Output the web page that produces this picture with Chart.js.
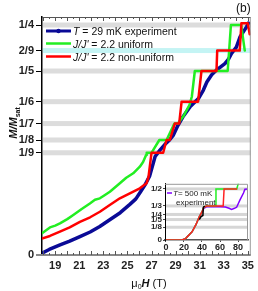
<!DOCTYPE html>
<html><head><meta charset="utf-8">
<script src="https://cdn.jsdelivr.net/npm/chart.js@4/dist/chart.umd.min.js"></script>
<style>
html,body{margin:0;padding:0;background:#fff;}
#wrap{position:relative;width:258px;height:291px;overflow:hidden;}
#main{position:absolute;left:0;top:0;width:258px;height:291px;}
#inset{position:absolute;left:140px;top:178px;width:112px;height:74px;}
</style></head><body>
<div id="wrap">
<canvas id="main" width="258" height="291"></canvas>
<canvas id="inset" width="112" height="74"></canvas>
</div>
<script>
// ---------- data (main panel) ----------
const yTickValues = [0, 1/9, 1/8, 1/7, 1/6, 1/5, 2/9, 1/4];
const yTickLabels = ['0','1/9','1/8','1/7','1/6','1/5','2/9','1/4'];
const xTickLabels = [19, 21, 23, 25, 27, 29, 31, 33, 35];

const expField = [17.9,18.5,19.4,20.2,21.05,21.9,22.7,23.5,24.4,25.2,25.7,26.05,26.45,26.85,27.3,27.7,28.1,28.5,28.8,29.2,29.6,30.2,30.5,30.9,31.3,31.6,32.0,32.4,32.8,33.1,33.4,33.65,34.05,34.35,34.9,35.05];
const expM     = [0.002,0.006,0.011,0.015,0.020,0.025,0.031,0.038,0.046,0.055,0.061,0.068,0.076,0.086,0.107,0.114,0.120,0.125,0.130,0.141,0.150,0.161,0.165,0.170,0.179,0.188,0.196,0.201,0.205,0.208,0.213,0.219,0.226,0.237,0.248,0.252];

const uniField = [17.9,18.56,19.0,19.39,20.0,20.5,21.2,21.88,22.3,22.71,23.1,23.54,24.37,24.9,25.48,26.03,26.3,26.55,26.6,27.0,27.65,28.25,28.9,29.2,29.7,30.15,30.35,30.6,33.33,33.6,34.45,34.75];
const uniM     = [0.0236,0.030,0.032,0.0344,0.039,0.0435,0.050,0.056,0.060,0.0616,0.065,0.0688,0.078,0.084,0.0888,0.096,0.101,0.1087,0.1111,0.1111,0.125,0.125,0.1429,0.1429,0.152,0.163,0.172,0.2,0.2,0.25,0.25,0.2222];

const nonField = [17.9,18.56,19.39,20.2,21.05,21.9,22.71,23.5,24.37,25.2,26.03,26.59,26.75,27.0,27.97,28.25,28.52,28.94,29.3,29.5,30.87,31.15,32.4,32.46,34.33,34.47,35.0,35.16];
const nonM     = [0.018,0.0207,0.0254,0.030,0.036,0.041,0.047,0.054,0.0616,0.067,0.0725,0.078,0.085,0.1111,0.1111,0.125,0.125,0.1429,0.1429,0.1667,0.1667,0.2,0.2,0.2222,0.2222,0.252,0.252,0.24];

// ---------- data (inset) ----------
const insetYTickValues = [0, 1/8, 1/5, 1/4, 1/3, 1/2];
const insetYTickLabels = ['0','1/8','1/5','1/4','1/3','1/2'];
const insetXTickLabels = [0, 20, 40, 60, 80];

const hotField = [0,18,22,29,33,37,40,42,45,60,66,70,72.8,76,78.4,82,86,87.6,91];
const hotM     = [0,0,0.016,0.08,0.145,0.226,0.275,0.31,0.325,0.325,0.322,0.31,0.30,0.31,0.32,0.39,0.46,0.497,0.5];

const insUniField = [0,18,22,29,33,37,40,42,45,54.5,55.5,78.5,80.5];
const insUniM     = [0,0,0.016,0.08,0.145,0.226,0.275,0.32,0.333,0.333,0.5,0.5,0.56];

const insNonField = [0,18,22,29,33,37,40,42,45,63.5,64.5,79];
const insNonM     = [0,0,0.016,0.08,0.145,0.226,0.275,0.32,0.333,0.333,0.5,0.5];

const coldField = [37,39,41,41.5,43];
const coldM     = [0.2,0.23,0.24,0.32,0.333];

const F = "'Liberation Sans', Arial, sans-serif";
const pts = (xs, ys) => xs.map((x, i) => ({x, y: ys[i]}));

function rich(ctx, x, y, parts, align) {
  let w = 0;
  parts.forEach(p => { ctx.font = p[1]; w += ctx.measureText(p[0]).width; });
  let cx = align === 'center' ? x - w / 2 : x;
  parts.forEach(p => { ctx.font = p[1]; ctx.fillText(p[0], cx, y + (p[2] || 0)); cx += ctx.measureText(p[0]).width; });
}

const mainDeco = {
  id: 'mainDeco',
  beforeDatasetsDraw(chart) {
    const {ctx, chartArea: a, scales: {y}} = chart;
    ctx.save();
    yTickValues.forEach((v, i) => {
      if (v === 0) return;
      const py = y.getPixelForValue(v);
      ctx.fillStyle = yTickLabels[i] === '2/9' ? '#c4f4f4' : '#dcdcdc';
      ctx.fillRect(a.left + 1, py - 2.5, a.right - a.left - 1, 5);
    });
    ctx.restore();
  },
  afterDraw(chart) {
    const {ctx, chartArea: a, scales: {x}} = chart;
    ctx.save();
    ctx.strokeStyle = '#555'; ctx.lineWidth = 1;
    ctx.beginPath(); ctx.moveTo(a.left, a.top + 0.5); ctx.lineTo(a.right, a.top + 0.5); ctx.stroke();
    ctx.strokeStyle = '#999';
    ctx.beginPath(); ctx.moveTo(a.right - 0.5, a.top); ctx.lineTo(a.right - 0.5, a.bottom); ctx.stroke();
    ctx.strokeStyle = '#888'; ctx.lineWidth = 2;
    ctx.beginPath(); ctx.moveTo(a.left - 6, a.bottom); ctx.lineTo(a.right, a.bottom); ctx.stroke();
    ctx.lineWidth = 1; ctx.strokeStyle = '#555';
    for (let v = 18; v <= 35.01; v += 0.5) {
      const px = Math.round(x.getPixelForValue(v)) + 0.5;
      const len = Number.isInteger(v) ? 4 : 2;
      ctx.beginPath(); ctx.moveTo(px, a.bottom); ctx.lineTo(px, a.bottom - len); ctx.stroke();
      ctx.beginPath(); ctx.moveTo(px, a.top); ctx.lineTo(px, a.top + len); ctx.stroke();
    }
    ctx.fillStyle = '#111'; ctx.textBaseline = 'alphabetic';
    const lg = [
      {c: '#0a0a96', w: 3, dot: true, parts: [['T', 'italic 10.5px ' + F], [' = 29 mK experiment', '10.5px ' + F]]},
      {c: '#22ee22', w: 2.5, parts: [['J/J\'', 'italic 10.5px ' + F], [' = 2.2 uniform', '10.5px ' + F]]},
      {c: '#ff0000', w: 2.5, parts: [['J/J\'', 'italic 10.5px ' + F], [' = 2.2 non-uniform', '10.5px ' + F]]}
    ];
    const ly = [31, 43.5, 56.5];
    lg.forEach((e, i) => {
      ctx.strokeStyle = e.c; ctx.lineWidth = e.w;
      ctx.beginPath(); ctx.moveTo(46, ly[i]); ctx.lineTo(71, ly[i]); ctx.stroke();
      if (e.dot) { ctx.fillStyle = e.c; ctx.beginPath(); ctx.arc(58.5, ly[i], 2.2, 0, Math.PI * 2); ctx.fill(); }
      ctx.fillStyle = '#111';
      rich(ctx, 73, ly[i] + 4, e.parts, 'left');
    });
    ctx.font = '12px ' + F; ctx.fillStyle = '#111';
    ctx.fillText('(b)', 236, 12);
    rich(ctx, 149, 287, [['\u03bc', '11px ' + F], ['0', '7px ' + F, 2], ['H', 'italic bold 11px ' + F], [' (T)', '11px ' + F]], 'center');
    ctx.translate(13, 123); ctx.rotate(-Math.PI / 2);
    rich(ctx, 0, 4, [['M/M', 'italic bold 11px ' + F], ['sat', 'bold 7px ' + F, 3]], 'center');
    ctx.restore();
  }
};

new Chart(document.getElementById('main'), {
  type: 'line',
  data: {
    datasets: [
      {data: pts(nonField, nonM), borderColor: '#ff0000', borderWidth: 2.5},
      {data: pts(uniField, uniM), borderColor: '#22ee22', borderWidth: 2.5},
      {data: pts(expField, expM), borderColor: '#0a0a96', borderWidth: 3.5}
    ]
  },
  options: {
    responsive: false, animation: false, devicePixelRatio: 1,
    layout: {padding: {left: 0, right: 7, top: 17, bottom: 0}},
    plugins: {legend: {display: false}, tooltip: {enabled: false}},
    elements: {point: {radius: 0}, line: {tension: 0, borderCapStyle: 'round', borderJoinStyle: 'round'}},
    scales: {
      x: {
        type: 'linear', min: 17.9, max: 35.25,
        afterBuildTicks: s => { s.ticks = xTickLabels.map(v => ({value: v})); },
        afterFit: s => { s.height = 36; },
        grid: {display: false, tickLength: 0}, border: {display: false},
        ticks: {font: {family: F, size: 11, weight: 'bold'}, color: '#222', padding: 4, maxRotation: 0, autoSkip: false}
      },
      y: {
        type: 'linear', min: 0, max: 0.2587,
        afterBuildTicks: s => { s.ticks = yTickValues.map(v => ({value: v})); },
        afterFit: s => { s.width = 42; },
        grid: {display: true, drawOnChartArea: false, tickLength: 6, color: '#000'},
        border: {display: true, color: '#000', width: 1.5},
        ticks: {font: {family: F, size: 11, weight: 'bold'}, color: '#222', padding: 2, autoSkip: false,
                callback: (v, i) => yTickLabels[i]}
      }
    }
  },
  plugins: [mainDeco]
});

const insetDeco = {
  id: 'insetDeco',
  beforeDraw(chart) {
    const {ctx, chartArea: a} = chart;
    ctx.save(); ctx.fillStyle = '#fff'; ctx.fillRect(a.left, a.top, a.right - a.left, a.bottom - a.top); ctx.restore();
  },
  beforeDatasetsDraw(chart) {
    const {ctx, chartArea: a, scales: {y}} = chart;
    ctx.save(); ctx.fillStyle = '#d6d6d6';
    insetYTickValues.forEach(v => {
      if (v === 0) return;
      const py = y.getPixelForValue(v);
      ctx.fillRect(a.left + 1, py - 1.5, a.right - a.left - 1, 3);
    });
    ctx.restore();
  },
  afterDraw(chart) {
    const {ctx, chartArea: a} = chart;
    ctx.save();
    ctx.strokeStyle = '#999'; ctx.lineWidth = 1;
    ctx.beginPath(); ctx.moveTo(a.left, a.top + 0.5); ctx.lineTo(a.right - 0.5, a.top + 0.5); ctx.lineTo(a.right - 0.5, a.bottom); ctx.stroke();
    ctx.strokeStyle = '#8000ff'; ctx.lineWidth = 1.5;
    ctx.beginPath(); ctx.moveTo(27, 15); ctx.lineTo(32, 15); ctx.stroke();
    ctx.fillStyle = '#222';
    rich(ctx, 33, 18, [['T', 'italic 8px ' + F], ['= 500 mK', '8px ' + F]], 'left');
    rich(ctx, 36, 27, [['experiment', '8px ' + F]], 'left');
    ctx.restore();
  }
};

new Chart(document.getElementById('inset'), {
  type: 'line',
  data: {
    datasets: [
      {data: pts(coldField, coldM), borderColor: '#000', borderWidth: 1.5},
      {data: pts(insNonField, insNonM), borderColor: '#ff2222', borderWidth: 1.5},
      {data: pts(insUniField, insUniM), borderColor: '#22ee22', borderWidth: 1.5},
      {data: pts(hotField, hotM), borderColor: '#8000ff', borderWidth: 1.5}
    ]
  },
  options: {
    responsive: false, animation: false, devicePixelRatio: 1,
    layout: {padding: {left: 0, right: 4, top: 5, bottom: 0}},
    plugins: {legend: {display: false}, tooltip: {enabled: false}},
    elements: {point: {radius: 0}, line: {tension: 0}},
    scales: {
      x: {
        type: 'linear', min: -1, max: 91,
        afterBuildTicks: s => { s.ticks = insetXTickLabels.map(v => ({value: v})); },
        afterFit: s => { s.height = 12; },
        grid: {display: true, drawOnChartArea: false, tickLength: 2, color: '#444'},
        border: {display: true, color: '#555', width: 1.5},
        ticks: {font: {family: F, size: 9, weight: 'bold'}, color: '#222', padding: 0, maxRotation: 0, autoSkip: false}
      },
      y: {
        type: 'linear', min: 0, max: 0.55,
        afterBuildTicks: s => { s.ticks = insetYTickValues.map(v => ({value: v})); },
        afterFit: s => { s.width = 25; },
        grid: {display: true, drawOnChartArea: false, tickLength: 2, color: '#444'},
        border: {display: true, color: '#000', width: 1},
        ticks: {font: {family: F, size: 8, weight: 'bold'}, color: '#222', padding: 1, autoSkip: false,
                callback: (v, i) => insetYTickLabels[i]}
      }
    }
  },
  plugins: [insetDeco]
});
</script>
</body></html>
